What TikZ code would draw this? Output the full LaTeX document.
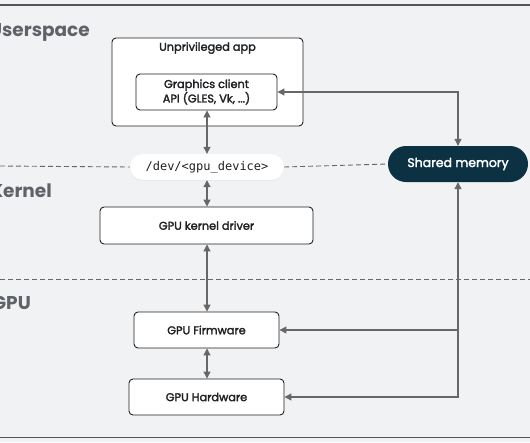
\documentclass[tikz,border=0pt]{standalone}
\usepackage{fontspec}
\setmainfont{Poppins}
\setmonofont{DejaVu Sans Mono}
\newfontfamily\medfont{Poppins}[FakeBold=2.2]
\usetikzlibrary{arrows.meta,shadows}
\definecolor{bg}{HTML}{F1F2F4}
\definecolor{ln}{HTML}{676767}
\definecolor{navy}{HTML}{0B3142}
\definecolor{hdr}{HTML}{5F6368}
\definecolor{txt}{HTML}{202124}
\definecolor{rule}{HTML}{555555}
\begin{document}
\begin{tikzpicture}[x=1pt,y=-1pt,
  box/.style={draw=txt, line width=0.9pt, fill=white, rounded corners=4pt,
    font=\medfont\fontsize{11.3}{13}\selectfont, text=txt, align=center, inner sep=0pt},
  plain/.style={font=\medfont\fontsize{11.3}{13}\selectfont, text=txt, align=center, inner sep=0pt},
  hdrlbl/.style={font=\bfseries\fontsize{18.5}{22}\selectfont, text=hdr, anchor=base east, inner sep=0pt},
  conn/.style={draw=ln, line width=1.1pt, {Triangle[length=7pt,width=7pt]}-{Triangle[length=7pt,width=7pt]}},
  oneway/.style={draw=ln, line width=1.1pt, -{Triangle[length=7pt,width=7pt]}},
  sepline/.style={draw=ln, dash pattern=on 5pt off 3pt, line width=0.9pt},
  border/.style={draw=rule, line width=1.6pt}
]
\useasboundingbox (0,0) rectangle (530,442);
\fill[bg] (0,0) rectangle (530,442);

\coordinate (tl) at (0,5);
\coordinate (tr) at (530,5);
\coordinate (bl) at (0,437.5);
\coordinate (br) at (530,437.5);
\coordinate (s1l) at (0,166);
\coordinate (s2l) at (0,279);
\coordinate (s2r) at (530,279);

\draw[border] (tl) -- (tr);
\draw[border] (bl) -- (br);

\node[hdrlbl] (user) at (90,36) {Userspace};
\node[hdrlbl] (kern) at (52,197) {Kernel};
\node[hdrlbl] (gpu) at (31,309) {GPU};

\node[box, minimum width=191pt, minimum height=88pt] (app) at (207.5,82) {};
\node[plain] (apptitle) at (207.5,48) {Unprivileged app};
\node[box, minimum width=141pt, minimum height=36pt] (gfx) at (206.5,92) {Graphics client\\API (GLES, Vk, ...)};
\node[fill=white, rounded corners=13pt, minimum width=154pt, minimum height=26pt, inner sep=0pt,
  font=\ttfamily\fontsize{12}{14}\selectfont, text=txt,
  drop shadow={opacity=0.08, shadow xshift=0pt, shadow yshift=-1pt}] (dev) at (207,167) {/dev/<gpu\_device>};
\node[fill=navy, rounded corners=18pt, minimum width=140pt, minimum height=36pt, inner sep=0pt,
  font=\medfont\fontsize{12.5}{15}\selectfont, text=white] (shm) at (458,164) {Shared memory};
\node[box, minimum width=213pt, minimum height=37pt] (drv) at (206.5,225.5) {GPU kernel driver};
\node[box, minimum width=145pt, minimum height=36pt] (fw) at (206.5,330) {GPU Firmware};
\node[box, minimum width=155pt, minimum height=36pt] (hw) at (206.5,397) {GPU Hardware};

\draw[sepline] (s1l) -- (dev.west);
\draw[sepline] (dev.east) -- (shm.west);
\draw[sepline] (s2l) -- (s2r);

\draw[conn] (gfx.south -| dev.north) -- (dev.north);
\draw[conn] (dev.south) -- (drv.north -| dev.south);
\draw[conn] (drv.south -| dev.south) -- (fw.north -| dev.south);
\draw[conn] (fw.south -| dev.south) -- (hw.north -| dev.south);
\draw[conn] (gfx.east) -| (shm.north);
\draw[conn] (shm.south) |- (hw.east);
\coordinate (jn) at (shm.south |- fw.east);
\draw[oneway] (jn) -- (fw.east);
\end{tikzpicture}
\end{document}
